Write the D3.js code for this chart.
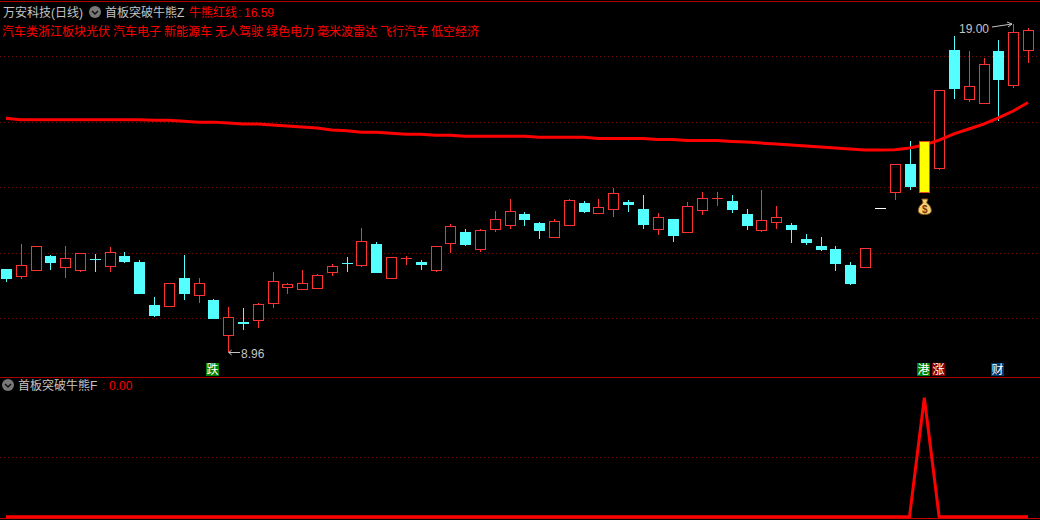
<!DOCTYPE html>
<html><head><meta charset="utf-8">
<script src="https://cdn.jsdelivr.net/npm/d3@7/dist/d3.min.js"></script>
<style>
html,body{margin:0;padding:0;background:#000;overflow:hidden}
svg{display:block}
text{font-family:"Liberation Sans","Noto Sans CJK SC",sans-serif;font-size:12px}
</style></head><body><div id="c"></div>
<script>
const opens =[11.51,11.30,11.47,11.90,11.58,11.48,11.80,11.61,11.90,11.72,10.41,10.38,11.23,10.72,10.56,9.50,9.89,9.96,10.46,10.96,10.90,10.93,11.42,11.69,11.64,12.27,11.24,11.80,11.72,11.48,12.31,12.64,12.13,12.74,12.86,13.18,12.91,12.49,12.86,13.52,13.22,13.35,13.55,13.34,12.74,13.03,12.64,13.32,13.66,13.58,13.18,12.71,12.95,12.85,12.42,12.21,12.12,11.63,11.58,13.36,13.87,14.71,13.86,14.60,18.19,16.71,16.58,18.16,17.13,18.20];
const closes=[11.20,11.62,12.20,11.69,11.83,11.98,11.79,12.02,11.72,10.74,10.07,11.07,10.74,11.07,9.98,10.03,9.83,10.43,11.14,11.04,11.07,11.31,11.59,11.68,12.35,11.38,11.86,11.85,11.63,12.20,12.81,12.24,12.69,13.02,13.27,13.00,12.67,12.96,13.60,13.25,13.39,13.82,13.46,12.85,13.08,12.51,13.42,13.66,13.67,13.31,12.82,12.99,13.08,12.70,12.30,12.09,11.66,11.05,12.14,13.36,14.70,14.01,15.41,16.96,17.00,17.08,17.76,17.28,18.73,18.79];
const highs =[11.51,12.27,12.20,11.93,12.21,11.98,11.96,12.18,12.02,11.78,10.65,11.07,11.93,11.23,10.59,10.35,10.31,10.47,11.41,11.07,11.47,11.35,11.66,11.87,12.76,12.33,11.86,11.90,11.78,12.20,12.88,12.72,12.72,13.27,13.64,13.25,12.94,13.03,13.64,13.58,13.64,13.98,13.61,13.76,13.22,13.03,13.55,13.86,13.86,13.76,13.34,13.92,13.43,12.91,12.57,12.48,12.21,11.72,12.14,13.36,14.70,15.41,15.41,16.96,18.62,18.16,17.95,18.50,19.00,18.86];
const lows  =[11.12,11.20,11.44,11.47,11.24,11.42,11.41,11.41,11.69,10.74,10.04,10.35,10.56,10.47,9.98,8.96,9.64,9.70,10.31,10.74,10.86,10.93,11.29,11.41,11.57,11.38,11.24,11.63,11.47,11.41,11.99,12.21,12.02,12.64,12.73,12.82,12.42,12.49,12.86,13.22,13.22,13.10,13.25,12.73,12.54,12.33,12.64,13.15,13.43,13.22,12.70,12.64,12.73,12.30,12.24,12.05,11.44,11.02,11.58,13.36,13.61,13.92,13.86,14.53,16.70,16.60,16.58,16.02,17.03,17.80];
const redLine=[16.11,16.06,16.06,16.06,16.06,16.06,16.06,16.06,16.06,16.06,16.05,16.05,16.02,15.99,15.99,15.96,15.93,15.93,15.90,15.87,15.84,15.81,15.75,15.73,15.68,15.68,15.65,15.62,15.62,15.59,15.59,15.56,15.56,15.56,15.56,15.56,15.53,15.53,15.53,15.53,15.49,15.49,15.49,15.49,15.46,15.46,15.43,15.43,15.43,15.40,15.38,15.35,15.32,15.29,15.26,15.23,15.20,15.17,15.14,15.14,15.15,15.20,15.29,15.44,15.63,15.78,15.93,16.12,16.33,16.59];
const signal=[0,0,0,0,0,0,0,0,0,0,0,0,0,0,0,0,0,0,0,0,0,0,0,0,0,0,0,0,0,0,0,0,0,0,0,0,0,0,0,0,0,0,0,0,0,0,0,0,0,0,0,0,0,0,0,0,0,0,0,0,0,0,1,0,0,0,0,0,0,0];
const priceTicks=[10,12,14,16,18];
const signalTicks=[0.5];
const tags=["汽车类浙江板块光伏","汽车电子","新能源车","无人驾驶","绿色电力","毫米波雷达","飞行汽车","低空经济"];
const limitIndex=62;
const chips=[{i:14,t:"跌",c:"#008000"},{i:62,t:"港",c:"#008000"},{i:63,t:"涨",c:"#800000"},{i:67,t:"财",c:"#00386e"}];

const W=1040,H=520;
const RED="#ff3232",CYAN="#54ffff",GRID="#700d0d",PURE="#ff0000",GREY="#c4c4c4";
const svg=d3.select("#c").append("svg").attr("width",W).attr("height",H).style("background","#000");
const n=opens.length;
const x=d3.scaleLinear().domain([0,n-1]).range([6,1028]);
const y=d3.scaleLinear().domain([10,18]).range([318.3,56.3]);
const y2=d3.scaleLinear().domain([0,1]).range([516.7,397.7]);
const px=i=>Math.round(x(i))+.5;

// frame
svg.append("line").attr("x1",0).attr("x2",W).attr("y1",1.5).attr("y2",1.5).attr("stroke","#b00000");
svg.append("line").attr("x1",0).attr("x2",W).attr("y1",377.5).attr("y2",377.5).attr("stroke","#a80000");
svg.append("line").attr("x1",0).attr("x2",W).attr("y1",518.5).attr("y2",518.5).attr("stroke","#c80000");

// grids via axes
function grid(scale,ticks){
  const g=svg.append("g").call(d3.axisRight(scale).tickValues(ticks).tickSize(W).tickFormat(""));
  g.select(".domain").remove();
  g.selectAll("line").attr("stroke",GRID).attr("stroke-dasharray","1 3").attr("shape-rendering","crispEdges");
}
grid(y,priceTicks); grid(y2,signalTicks);

// candles
const idx=d3.range(n);
const col=i=>closes[i]>opens[i]?RED:closes[i]<opens[i]?CYAN:"#fff";
const normal=idx.filter(i=>i!==limitIndex);
const flat=i=>closes[i]===opens[i];
const bodyTop=i=>Math.round(y(Math.max(opens[i],closes[i])));
const bodyBot=i=>Math.round(y(Math.min(opens[i],closes[i])));
svg.append("g").selectAll("line").data(normal.filter(i=>!flat(i))).join("line")
  .attr("x1",px).attr("x2",px).attr("y1",i=>Math.round(y(highs[i]))).attr("y2",i=>Math.round(y(lows[i])))
  .attr("stroke",col).attr("shape-rendering","crispEdges");
svg.append("g").selectAll("rect").data(normal.filter(i=>closes[i]>opens[i]&&bodyBot(i)-bodyTop(i)>2)).join("rect")
  .attr("x",i=>px(i)-5).attr("width",10).attr("y",i=>bodyTop(i)+.5).attr("height",i=>bodyBot(i)-bodyTop(i))
  .attr("fill","#000").attr("stroke",RED).attr("shape-rendering","crispEdges");
svg.append("g").selectAll("rect").data(normal.filter(i=>closes[i]<opens[i])).join("rect")
  .attr("x",i=>px(i)-5.5).attr("width",11).attr("y",i=>bodyTop(i)).attr("height",i=>Math.max(1,bodyBot(i)-bodyTop(i)))
  .attr("fill",CYAN).attr("shape-rendering","crispEdges");
svg.append("g").selectAll("rect").data(normal.filter(i=>closes[i]>opens[i]&&bodyBot(i)-bodyTop(i)<=2)).join("rect")
  .attr("x",i=>px(i)-5.5).attr("width",11).attr("y",i=>bodyTop(i)).attr("height",i=>Math.max(1,bodyBot(i)-bodyTop(i)))
  .attr("fill",RED).attr("shape-rendering","crispEdges");
svg.append("g").selectAll("line").data(normal.filter(flat)).join("line")
  .attr("x1",i=>px(i)-5.5).attr("x2",i=>px(i)+5.5)
  .attr("y1",i=>bodyTop(i)+.5).attr("y2",i=>bodyTop(i)+.5)
  .attr("stroke","#fff").attr("shape-rendering","crispEdges");

// red line
svg.append("path").datum(redLine)
  .attr("d",d3.line().x((d,i)=>x(i)).y(d=>y(d)))
  .attr("fill","none").attr("stroke",PURE).attr("stroke-width",3);

// limit bar
svg.append("rect").attr("x",px(limitIndex)-5).attr("width",10)
  .attr("y",bodyTop(limitIndex)+.5).attr("height",bodyBot(limitIndex)-bodyTop(limitIndex))
  .attr("fill","#ffff00").attr("stroke","#e05010").attr("shape-rendering","crispEdges");

// money bag
const bx=x(limitIndex)+.5,bg=svg.append("g").attr("transform",`translate(${bx},207)`);
bg.append("path").attr("d","M-3,-8 L3,-8 L1.8,-4 C5,-2 6.5,1 6.5,3.5 C6.5,6.5 3.5,7.5 0,7.5 C-3.5,7.5 -6.5,6.5 -6.5,3.5 C-6.5,1 -5,-2 -1.8,-4 Z")
  .attr("fill","#f4d27a").attr("stroke","#8a5a14").attr("stroke-width",1);
bg.append("text").attr("y",5.5).attr("text-anchor","middle").attr("fill","#7a3a00").style("font-size","10px").style("font-weight","bold").text("$");

// high/low annotations
const lowY=Math.round(y(8.96))+.5,lowX=x(15)+.5;
svg.append("path").attr("d",d3.line()([[lowX,lowY],[240,lowY]])).attr("stroke",GREY).attr("fill","none");
svg.append("path").attr("d",d3.line()([[lowX+3,lowY-2.5],[lowX,lowY],[lowX+3,lowY+2.5]])).attr("stroke",GREY).attr("fill","none");
svg.append("text").attr("x",241).attr("y",358).attr("fill",GREY).text("8.96");
svg.append("text").attr("x",959).attr("y",33).attr("fill",GREY).text("19.00");
svg.append("path").attr("d",d3.line()([[992,27],[1012,24]])).attr("stroke",GREY).attr("fill","none");
svg.append("path").attr("d",d3.line()([[1007,22],[1012,24],[1008,27]])).attr("stroke",GREY).attr("fill","none");

// chips
const chip=svg.append("g").selectAll("g").data(chips).join("g")
  .attr("transform",d=>`translate(${Math.round(x(d.i))-7},363)`);
chip.append("rect").attr("width",13).attr("height",13).attr("fill",d=>d.c);
chip.append("text").attr("x",.5).attr("y",11).attr("fill","#fff").text(d=>d.t);

// signal pane
svg.append("path").datum(signal).attr("d",d3.line().x((d,i)=>x(i)).y(d=>y2(d)))
  .attr("fill","none").attr("stroke",PURE).attr("stroke-width",3);

// header
function icon(cx,cy){
  svg.append("circle").attr("cx",cx).attr("cy",cy).attr("r",6).attr("fill","#787878");
  svg.append("path").attr("d",`M${cx-3},${cy-1} L${cx},${cy+2} L${cx+3},${cy-1}`).attr("fill","none").attr("stroke","#111").attr("stroke-width",1.5);
}
const label=(tx,ty,t,c)=>svg.append("text").attr("x",tx).attr("y",ty).attr("fill",c).text(t);
label(3,17,"万安科技(日线)",GREY);
icon(95,12);
label(105,17,"首板突破牛熊Z",GREY);
label(189,17,"牛熊红线",PURE);
label(238,17,":","#c00000");
label(244,17,"16.59",PURE);
let tagX=2;
tags.forEach(t=>{label(tagX,36,t,PURE);tagX+=t.length*12+3;});
icon(8,385);
label(18,390,"首板突破牛熊F",GREY);
label(102,390,":","#a00000");
label(109,390,"0.00",PURE);
</script></body></html>
